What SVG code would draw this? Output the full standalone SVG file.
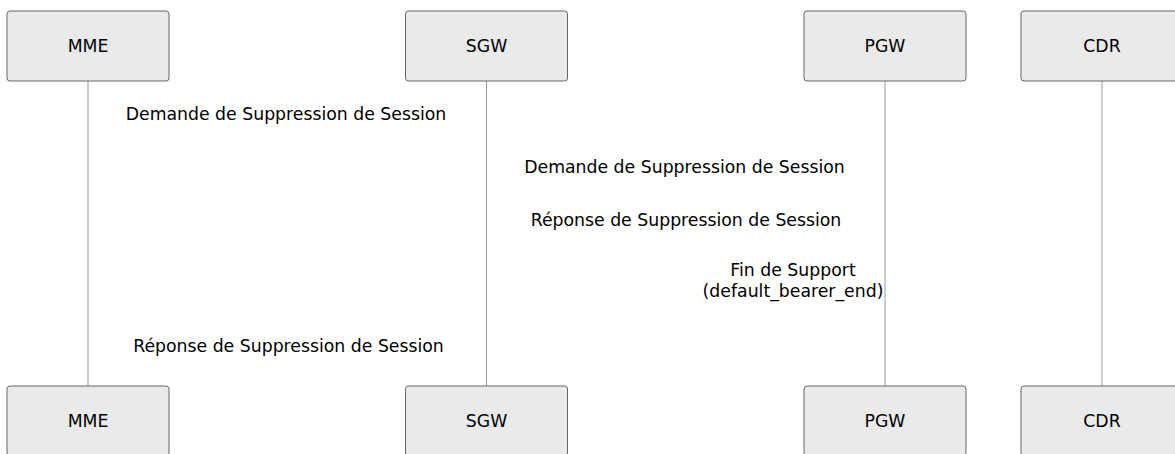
<svg xmlns="http://www.w3.org/2000/svg" width="1175" height="454" viewBox="0 0 1175 454">
  <style>
    .actor { fill: #eaeaea; stroke: #666666; stroke-width: 1; }
    .actor-label { font-family: "DejaVu Sans", sans-serif; font-size: 17.3px; fill: #000000; text-anchor: middle; dominant-baseline: central; }
    .lifeline { stroke: #999999; stroke-width: 1; }
    .msg-label { font-family: "DejaVu Sans", sans-serif; font-size: 17.3px; fill: #000000; text-anchor: middle; }
  </style>
  <rect width="1175" height="454" fill="#ffffff"/>

  <!-- lifelines -->
  <g id="lifelines">
    <line class="lifeline" x1="88" y1="81" x2="88" y2="386"/>
    <line class="lifeline" x1="486.5" y1="81" x2="486.5" y2="386"/>
    <line class="lifeline" x1="885" y1="81" x2="885" y2="386"/>
    <line class="lifeline" x1="1102" y1="81" x2="1102" y2="386"/>
  </g>

  <!-- participants, top row -->
  <g id="mme-top"><rect class="actor" x="7" y="11" width="162" height="70" rx="3"/><text class="actor-label" x="88" y="46">MME</text></g>
  <g id="sgw-top"><rect class="actor" x="405.5" y="11" width="162" height="70" rx="3"/><text class="actor-label" x="486.5" y="46">SGW</text></g>
  <g id="pgw-top"><rect class="actor" x="804" y="11" width="162" height="70" rx="3"/><text class="actor-label" x="885" y="46">PGW</text></g>
  <g id="cdr-top"><rect class="actor" x="1021" y="11" width="162" height="70" rx="3"/><text class="actor-label" x="1102" y="46">CDR</text></g>

  <!-- participants, bottom row -->
  <g id="mme-bottom"><rect class="actor" x="7" y="386" width="162" height="70" rx="3"/><text class="actor-label" x="88" y="421">MME</text></g>
  <g id="sgw-bottom"><rect class="actor" x="405.5" y="386" width="162" height="70" rx="3"/><text class="actor-label" x="486.5" y="421">SGW</text></g>
  <g id="pgw-bottom"><rect class="actor" x="804" y="386" width="162" height="70" rx="3"/><text class="actor-label" x="885" y="421">PGW</text></g>
  <g id="cdr-bottom"><rect class="actor" x="1021" y="386" width="162" height="70" rx="3"/><text class="actor-label" x="1102" y="421">CDR</text></g>

  <!-- message labels -->
  <g id="messages">
    <text class="msg-label" x="286" y="120">Demande de Suppression de Session</text>
    <text class="msg-label" x="684.5" y="173">Demande de Suppression de Session</text>
    <text class="msg-label" x="686" y="226">Réponse de Suppression de Session</text>
    <text class="msg-label" x="793" y="276">Fin de Support</text>
    <text class="msg-label" x="793" y="297">(default_bearer_end)</text>
    <text class="msg-label" x="288.5" y="352">Réponse de Suppression de Session</text>
  </g>
</svg>
